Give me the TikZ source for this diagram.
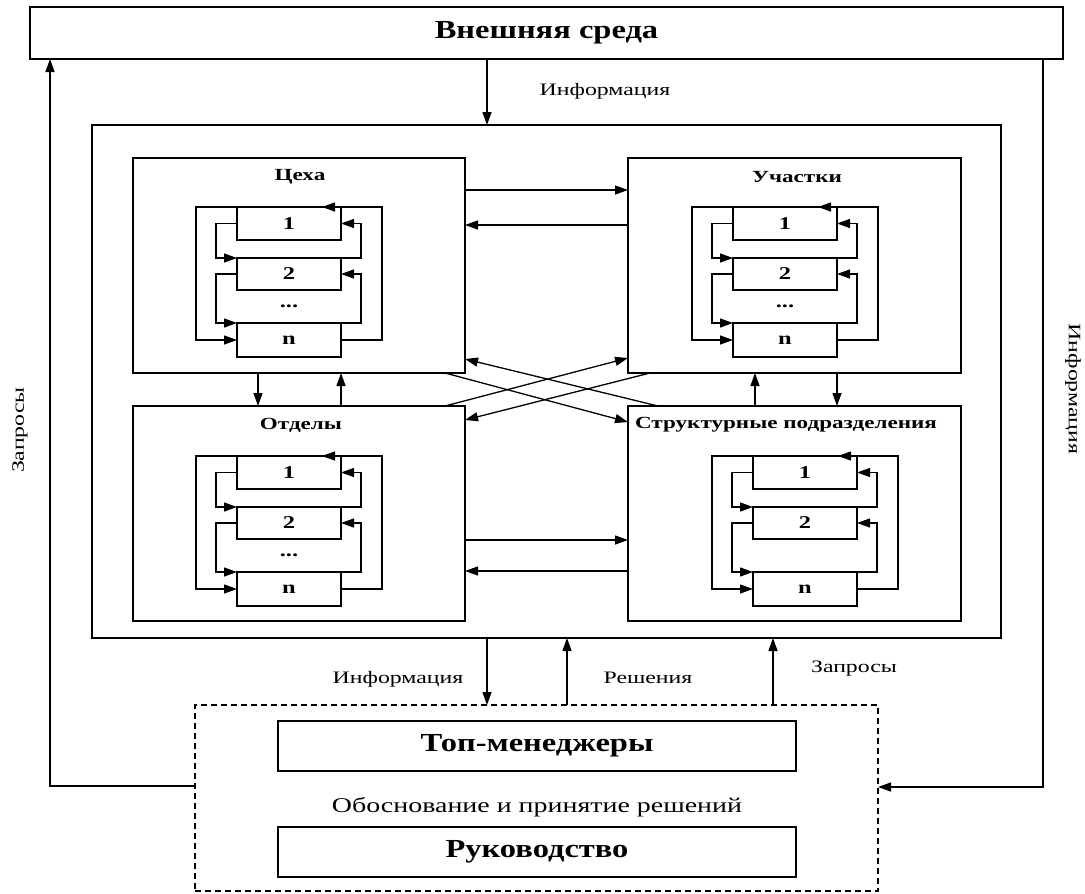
\documentclass[tikz,border=0pt]{standalone}
\usepackage{fontspec}
\setmainfont{Liberation Serif}
\newfontfamily\lsBig[FakeStretch=1.25]{Liberation Serif}
\newfontfamily\lsMid[FakeStretch=1.33]{Liberation Serif}
\newfontfamily\lsSmall[FakeStretch=1.36]{Liberation Serif}
\usetikzlibrary{arrows.meta,calc}
\tikzset{
  ln/.style={line width=1.3pt, draw=black},
  arr/.style={ln, -{Triangle[length=13pt,width=9pt]}},
  box/.style={draw, line width=1.3pt, rectangle, inner sep=0pt, outer sep=0pt},
  ibox/.style={box, anchor=north west, minimum width=104pt, minimum height=33pt, font=\lsSmall\fontsize{18}{18}\selectfont\bfseries},
  lbl/.style={font=\lsSmall\fontsize{17.5}{17.5}\selectfont, inner sep=0pt},
  ttl/.style={font=\lsSmall\fontsize{17}{17}\selectfont\bfseries, inner sep=0pt},
  bigt/.style={font=\lsBig\fontsize{26}{26}\selectfont\bfseries},
}
\newcommand\mkmodule[4]{%
  \node[ibox] (#1b1) at (#2,#3) {1};
  \node[ibox, minimum height=32pt] (#1b2) at (#2,#3+51) {2};
  \node[ibox, minimum height=34pt] (#1bn) at (#2,#3+116) {n};
  \coordinate (#1tip) at ($(#1b1.north east)+(-19,0)$);
  \draw[arr] (#1bn.east) -| ($(#1b1.north east)+(41,0)$) -- (#1tip);
  \draw[arr] (#1tip) -| ($(#1bn.west)+(-41,0)$) -- (#1bn.west);
  \draw[arr] (#1b1.west) -| ($(#1b2.north west)+(-21,0)$) -- (#1b2.north west);
  \draw[arr] (#1b2.north east) -| ($(#1b1.east)+(20,0)$) -- (#1b1.east);
  \draw[arr] (#1b2.west) -| ($(#1bn.north west)+(-21,0)$) -- (#1bn.north west);
  \draw[arr] (#1bn.north east) -| ($(#1b2.east)+(20,0)$) -- (#1b2.east);
  \ifnum#4=1
    \node[font=\lsSmall\fontsize{18}{18}\selectfont\bfseries, inner sep=0pt] (#1dots) at ($(#1b2.south)!0.5!(#1bn.north)$) {...};
  \fi
}
\begin{document}
\begin{tikzpicture}[x=1pt,y=-1pt]
\useasboundingbox (0,0) rectangle (1085,894);
\fill[white] (0,0) rectangle (1085,894);
% external environment
\node[box, anchor=north west, minimum width=1033pt, minimum height=52pt, bigt] (env) at (30,7) {Внешняя среда};
% big enterprise box
\node[box, anchor=north west, minimum width=909pt, minimum height=513pt] (big) at (92,125) {};
% modules
\node[box, anchor=north west, minimum width=332pt, minimum height=215pt] (ceh) at (133,158) {};
\node[box, anchor=north west, minimum width=333pt, minimum height=215pt] (uch) at (628,158) {};
\node[box, anchor=north west, minimum width=332pt, minimum height=215pt] (otd) at (133,406) {};
\node[box, anchor=north west, minimum width=333pt, minimum height=215pt] (str) at (628,406) {};
\node[ttl] (cehT) at (300,177) {Цеха};
\node[ttl] (uchT) at (797,177) {Участки};
\node[ttl] (otdT) at (301,425) {Отделы};
\node[ttl] (strT) at (786,425) {Структурные подразделения};
\mkmodule{ceh}{237}{207}{1}
\mkmodule{uch}{733}{207}{1}
\mkmodule{otd}{237}{456}{1}
\mkmodule{str}{753}{456}{0}
% connectors between modules
\draw[arr] (ceh.east |- 0,190) -- (uch.west |- 0,190);
\draw[arr] (uch.west |- 0,225) -- (ceh.east |- 0,225);
\draw[arr] (otd.east |- 0,540) -- (str.west |- 0,540);
\draw[arr] (str.west |- 0,571) -- (otd.east |- 0,571);
\draw[arr] (ceh.south -| 258,0) -- (otd.north -| 258,0);
\draw[arr] (otd.north -| 341,0) -- (ceh.south -| 341,0);
\draw[arr] (str.north -| 755,0) -- (uch.south -| 755,0);
\draw[arr] (uch.south -| 837,0) -- (str.north -| 837,0);
\draw[arr] (ceh.south -| 445,0) -- (str.west |- 0,422);
\draw[arr] (str.north -| 658,0) -- (ceh.east |- 0,359);
\draw[arr] (otd.north -| 445,0) -- (uch.west |- 0,358);
\draw[arr] (uch.south -| 650,0) -- (otd.east |- 0,420);
% management
\node[box, dashed, dash pattern=on 6pt off 4pt, line width=1.2pt, anchor=north west, minimum width=683pt, minimum height=186pt] (mgmt) at (195,705) {};
\node[box, anchor=north west, minimum width=518pt, minimum height=50pt, bigt] (topm) at (278,721) {Топ-менеджеры};
\node[box, anchor=north west, minimum width=518pt, minimum height=50pt, bigt] (ruk) at (278,827) {Руководство};
\node[font=\lsMid\fontsize{21}{21}\selectfont, inner sep=0pt] (obos) at (537,807) {Обоснование и принятие решений};
% outer connectors
\draw[arr] (env.south -| 487,0) -- (big.north -| 487,0);
\node[lbl] (info1) at (605,91) {Информация};
\draw[arr] (mgmt.west |- 0,786) -| (env.south -| 50,0);
\draw[arr] (env.south -| 1043,0) |- (mgmt.east |- 0,787);
\node[lbl, rotate=90] (zapL) at (20,430) {Запросы};
\node[lbl, rotate=-90] (infoR) at (1073,389) {Информация};
\draw[arr] (big.south -| 487,0) -- (mgmt.north -| 487,0);
\draw[arr] (mgmt.north -| 567,0) -- (big.south -| 567,0);
\draw[arr] (mgmt.north -| 773,0) -- (big.south -| 773,0);
\node[lbl] (info2) at (398,679) {Информация};
\node[lbl] (resh) at (648,678) {Решения};
\node[lbl] (zap2) at (854,669) {Запросы};
\end{tikzpicture}
\end{document}
